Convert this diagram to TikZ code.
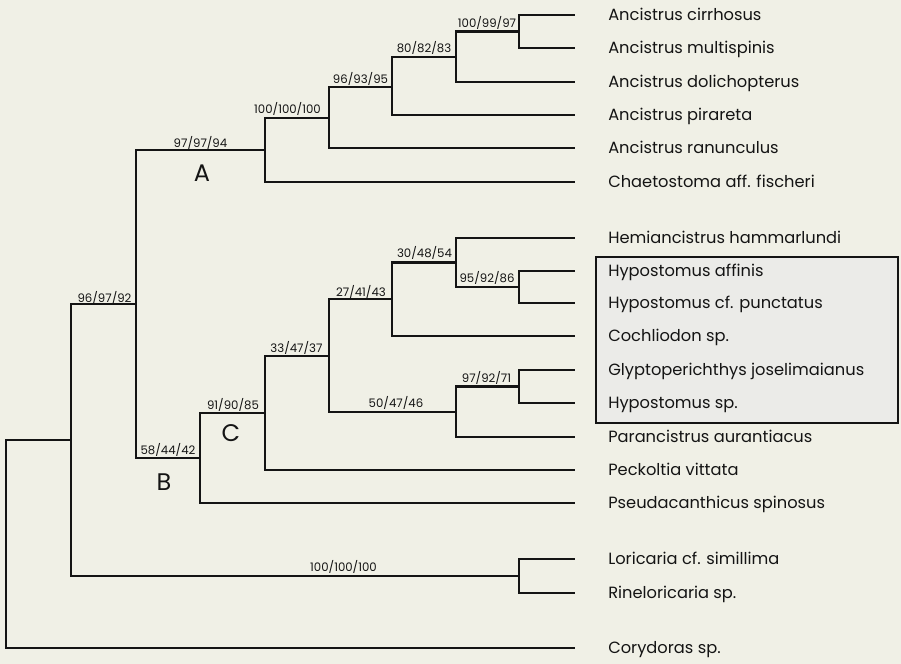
\documentclass[tikz,border=0pt]{standalone}
\usepackage{fontspec}
\setmainfont{Poppins}
\usetikzlibrary{positioning}
\definecolor{paperbg}{HTML}{F0F0E6}
\definecolor{boxfill}{HTML}{EBEBE8}
\definecolor{inkblack}{HTML}{141414}

\begin{document}
\begin{tikzpicture}[x=0.75pt, y=-0.75pt,
    branch/.style={line width=1.8pt, draw=inkblack},
    taxon/.style={anchor=base west, inner sep=0pt, text=inkblack, font=\fontsize{12.2}{13}\selectfont},
    boot/.style={anchor=base, inner sep=0pt, text=inkblack, font=\fontsize{8.8}{10}\selectfont},
    clade/.style={inner sep=0pt, text=inkblack, font=\fontsize{18}{20}\selectfont}]
    \fill[paperbg] (0,0) rectangle (901,664);
    % group of Hypostomus
    \draw[line width=1.1pt, draw=inkblack, fill=boxfill] (596,257) rectangle (898,423);
    % tips and species
    \foreach \i/\y/\sp in {1/15/Ancistrus cirrhosus, 2/48/Ancistrus multispinis,
        3/82/Ancistrus dolichopterus, 4/115/Ancistrus pirareta, 5/148/Ancistrus ranunculus,
        6/182/Chaetostoma aff. fischeri, 7/238/Hemiancistrus hammarlundi,
        8/271/Hypostomus affinis, 9/303/Hypostomus cf. punctatus, 10/336/Cochliodon sp.,
        11/370/Glyptoperichthys joselimaianus, 12/403/Hypostomus sp.,
        13/437/Parancistrus aurantiacus, 14/470/Peckoltia vittata,
        15/503/Pseudacanthicus spinosus, 16/559/Loricaria cf. simillima,
        17/593/Rineloricaria sp., 18/648/Corydoras sp.} {
        \coordinate (t\i) at (575,\y);
        \node[taxon] (s\i) at (608,\y+5) {\sp};
    }
    % internal nodes
    \coordinate (n1) at (519,31.5);
    \coordinate (n2) at (456,57);
    \coordinate (n3) at (392,87);
    \coordinate (n4) at (329,118);
    \coordinate (nA) at (265,150);
    \coordinate (n5) at (519,287);
    \coordinate (n6) at (456,262.5);
    \coordinate (n7) at (392,299);
    \coordinate (n8) at (519,386.5);
    \coordinate (n9) at (456,412);
    \coordinate (n10) at (329,356);
    \coordinate (n11) at (265,413);
    \coordinate (nC) at (200,458);
    \coordinate (nB) at (136,304);
    \coordinate (n12) at (519,576);
    \coordinate (n13) at (71,440);
    \coordinate (root) at (6,544);
    \foreach \p/\c in {n1/t1, n1/t2, n2/n1, n2/t3, n3/n2, n3/t4, n4/n3, n4/t5,
        nA/n4, nA/t6, n5/t8, n5/t9, n6/t7, n6/n5, n7/n6, n7/t10, n8/t11, n8/t12,
        n9/n8, n9/t13, n10/n7, n10/n9, n11/n10, n11/t14, nC/n11, nC/t15,
        nB/nA, nB/nC, n12/t16, n12/t17, n13/nB, n13/n12, root/n13, root/t18}
        \draw[branch] (\p) |- (\c);
    % support values
    \node[boot] (b1) at (487,27) {100/99/97};
    \node[boot] (b2) at (424,52) {80/82/83};
    \node[boot] (b3) at (360.5,83) {96/93/95};
    \node[boot] (b4) at (287.5,113) {100/100/100};
    \node[boot] (b5) at (200.5,147) {97/97/94};
    \node[boot] (b6) at (104.5,302) {96/97/92};
    \node[boot] (b7) at (424.5,257) {30/48/54};
    \node[boot] (b8) at (361,296) {27/41/43};
    \node[boot] (b9) at (487,282) {95/92/86};
    \node[boot] (b10) at (296.5,352) {33/47/37};
    \node[boot] (b11) at (233,409) {91/90/85};
    \node[boot] (b12) at (168,454) {58/44/42};
    \node[boot] (b13) at (396,407) {50/47/46};
    \node[boot] (b14) at (486.5,382) {97/92/71};
    \node[boot] (b15) at (343.5,571) {100/100/100};
    % clades
    \node[clade] (cA) at (202,173) {A};
    \node[clade] (cB) at (164,482) {B};
    \node[clade] (cC) at (231,433) {C};
\end{tikzpicture}
\end{document}
